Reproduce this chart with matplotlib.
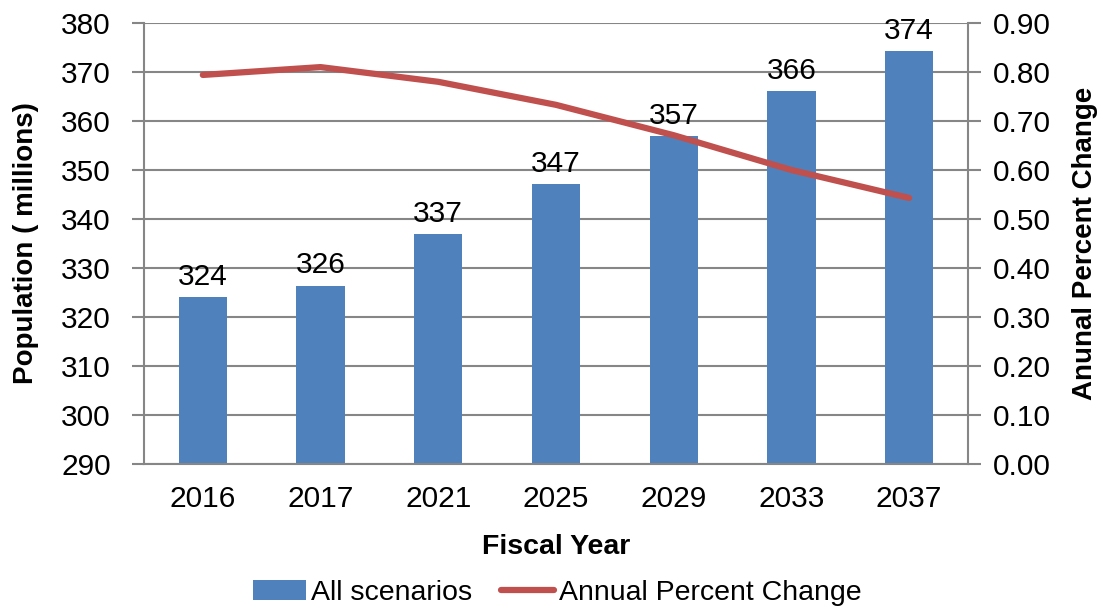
import numpy as np
import matplotlib.pyplot as plt

plt.rcParams['font.family'] = ['Liberation Sans', 'DejaVu Sans']

years = ['2016', '2017', '2021', '2025', '2029', '2033', '2037']
population = [324, 326.4, 336.9, 347.1, 356.9, 366.1, 374.3]
pop_labels = ['324', '326', '337', '347', '357', '366', '374']
pct_change = [0.794, 0.810, 0.780, 0.733, 0.671, 0.600, 0.543]

bar_color = '#4F81BD'
line_color = '#C0504D'
grid_color = '#868686'

fig = plt.figure(figsize=(11.04, 6.10), dpi=100)
ax = fig.add_axes([0.1304, 0.2393, 0.7464, 0.7230])
ax2 = ax.twinx()

x = np.arange(len(years))
bars = ax.bar(x, [p - 290 for p in population], bottom=290, width=0.41,
              color=bar_color, label='All scenarios', zorder=2)
for xi, p, lab in zip(x, population, pop_labels):
    ax.text(xi, p + 1.3, lab, ha='center', va='bottom', fontsize=21.5)

line, = ax2.plot(x, pct_change, color=line_color, lw=4.5,
                 solid_capstyle='round', label='Annual Percent Change')

ax.set_xlim(-0.5, len(years) - 0.5)
ax.set_ylim(290, 380)
ax.set_yticks(np.arange(290, 381, 10))
ax2.set_ylim(0, 0.9)
ax2.set_yticks(np.arange(0, 0.91, 0.1))
ax2.set_yticklabels([f'{v:.2f}' for v in np.arange(0, 0.91, 0.1)])

ax.set_xticks(x)
ax.set_xticklabels(years)
ax.yaxis.grid(True, color=grid_color, lw=1.5, zorder=0)
ax.set_axisbelow(True)

for a in (ax, ax2):
    for s in a.spines.values():
        s.set_visible(False)
    a.tick_params(labelsize=21.5, length=0)
for a, side in ((ax, 'left'), (ax, 'bottom'), (ax2, 'right')):
    a.spines[side].set_visible(True)
    a.spines[side].set_color(grid_color)
    a.spines[side].set_linewidth(1.5)
ax.tick_params(axis='y', length=9, color=grid_color, width=1.5, pad=15)
ax2.tick_params(axis='y', length=9, color=grid_color, width=1.5, pad=9)
ax.tick_params(axis='x', pad=15)

ax.set_xlabel('Fiscal Year', fontsize=20.5, fontweight='bold', labelpad=15)
ax.set_ylabel('Population ( millions)', fontsize=20, fontweight='bold', labelpad=16)
ax2.set_ylabel('Anunal Percent Change', fontsize=20, fontweight='bold', labelpad=15)

fig.legend(handles=[bars, line], loc='lower center', bbox_to_anchor=(0.505, -0.035),
           ncol=2, frameon=False, fontsize=20.5, handlelength=1.85,
           handletextpad=0.2, columnspacing=1.0)

fig.savefig('out.png', dpi=100)
